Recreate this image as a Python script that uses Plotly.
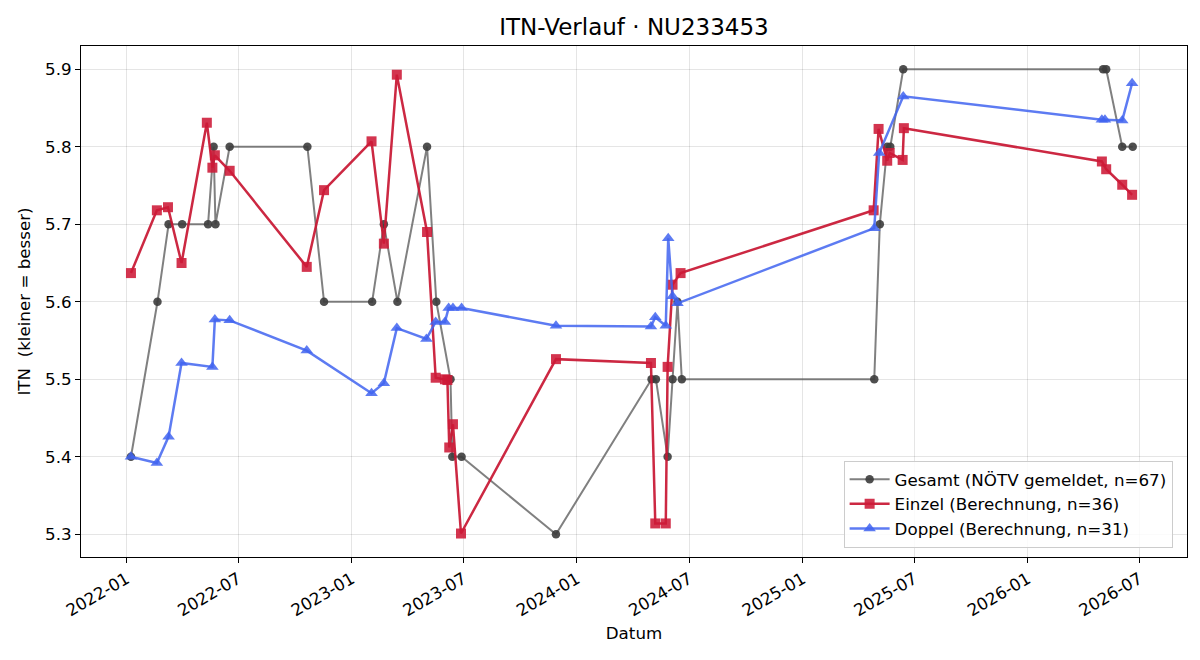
import plotly.graph_objects as go

# ---- data ----
gesamt_dates = ["2022-01-08", "2022-02-20", "2022-03-10", "2022-04-01", "2022-05-13", "2022-05-22",
                "2022-05-25", "2022-06-17", "2022-10-21", "2022-11-17", "2023-02-03", "2023-02-22",
                "2023-03-16", "2023-05-03", "2023-05-18", "2023-06-10", "2023-06-13", "2023-06-28",
                "2023-11-28", "2024-05-01", "2024-05-08", "2024-05-27", "2024-06-04", "2024-06-12",
                "2024-06-19", "2025-04-27", "2025-05-06", "2025-05-18", "2025-05-23", "2025-06-13",
                "2026-05-03", "2026-05-08", "2026-06-03", "2026-06-20"]
gesamt_vals = [5.4, 5.6, 5.7, 5.7, 5.7, 5.8,
               5.7, 5.8, 5.8, 5.6, 5.6, 5.7,
               5.6, 5.8, 5.6, 5.5, 5.4, 5.4,
               5.3, 5.5, 5.5, 5.4, 5.5, 5.6,
               5.5, 5.5, 5.7, 5.8, 5.8, 5.9,
               5.9, 5.9, 5.8, 5.8]

einzel_dates = ["2022-01-08", "2022-02-19", "2022-03-09", "2022-03-31", "2022-05-11", "2022-05-20",
                "2022-05-24", "2022-06-17", "2022-10-20", "2022-11-17", "2023-02-02", "2023-02-22",
                "2023-03-15", "2023-05-03", "2023-05-17", "2023-06-01", "2023-06-05", "2023-06-08",
                "2023-06-14", "2023-06-27", "2023-11-28", "2024-04-30", "2024-05-07", "2024-05-24",
                "2024-05-27", "2024-06-04", "2024-06-17", "2025-04-26", "2025-05-04", "2025-05-18",
                "2025-05-22", "2025-06-12", "2025-06-14", "2026-05-01", "2026-05-08", "2026-06-03",
                "2026-06-19"]
einzel_vals = [5.637, 5.718, 5.722, 5.650, 5.831, 5.773,
               5.789, 5.769, 5.645, 5.744, 5.807, 5.675,
               5.893, 5.690, 5.502, 5.500, 5.499, 5.412,
               5.442, 5.301, 5.526, 5.521, 5.314, 5.314,
               5.516, 5.622, 5.637, 5.718, 5.823, 5.782,
               5.792, 5.783, 5.824, 5.781, 5.771, 5.751,
               5.738]

doppel_dates = ["2022-01-08", "2022-02-19", "2022-03-10", "2022-03-31", "2022-05-20", "2022-05-24",
                "2022-06-17", "2022-10-20", "2023-02-02", "2023-02-22", "2023-03-15", "2023-05-02",
                "2023-05-17", "2023-06-01", "2023-06-07", "2023-06-14", "2023-06-28", "2023-11-28",
                "2024-04-30", "2024-05-07", "2024-05-24", "2024-05-28", "2024-06-04", "2024-06-12",
                "2025-04-27", "2025-05-05", "2025-06-13", "2026-05-01", "2026-05-06", "2026-06-03",
                "2026-06-19"]
doppel_vals = [5.400, 5.392, 5.426, 5.521, 5.516, 5.577,
               5.576, 5.537, 5.482, 5.495, 5.566, 5.552,
               5.574, 5.574, 5.592, 5.592, 5.592, 5.569,
               5.568, 5.580, 5.569, 5.682, 5.607, 5.598,
               5.695, 5.792, 5.865, 5.835, 5.835, 5.834,
               5.882]

names = ["Gesamt (NÖTV gemeldet, n=67)", "Einzel (Berechnung, n=36)", "Doppel (Berechnung, n=31)"]
title = "ITN-Verlauf · NU233453"

FONT = "DejaVu Sans"

fig = go.Figure()
fig.add_trace(go.Scatter(
    x=gesamt_dates, y=gesamt_vals, name=names[0], mode="lines+markers",
    line=dict(color="rgba(85,85,85,0.75)", width=2),
    marker=dict(symbol="circle", size=8.5, color="rgba(60,60,60,0.9)", line=dict(width=0)),
))
fig.add_trace(go.Scatter(
    x=einzel_dates, y=einzel_vals, name=names[1], mode="lines+markers",
    line=dict(color="rgba(200,22,50,0.92)", width=2.5),
    marker=dict(symbol="square", size=10, color="rgba(205,25,55,0.88)", line=dict(width=0)),
))
fig.add_trace(go.Scatter(
    x=doppel_dates, y=doppel_vals, name=names[2], mode="lines+markers",
    line=dict(color="rgba(65,100,240,0.85)", width=2.5),
    marker=dict(symbol="triangle-up", size=11, color="rgba(65,100,240,0.85)", line=dict(width=0)),
))

fig.update_layout(
    width=1200, height=660,
    margin=dict(l=81, r=13, t=46, b=103),
    paper_bgcolor="white", plot_bgcolor="white",
    font=dict(family=FONT, size=16.7, color="black"),
    title=dict(text=title, x=0.5, xref="paper", xanchor="center", y=0.959, yanchor="middle",
               font=dict(family=FONT, size=23, color="black")),
    showlegend=True,
    legend=dict(x=0.987, y=0.018, xanchor="right", yanchor="bottom",
                bgcolor="rgba(255,255,255,0.85)", bordercolor="#cccccc", borderwidth=1,
                font=dict(family=FONT, size=16.7), tracegroupgap=0, itemwidth=40),
)
fig.update_xaxes(
    type="date", range=["2021-10-19", "2026-09-16"],
    tick0="2022-01-01", dtick="M6", tickformat="%Y-%m", tickangle=-30,
    ticks="outside", ticklen=5, tickcolor="black", tickfont=dict(size=16.7),
    showline=True, linecolor="black", linewidth=1, mirror=True,
    showgrid=True, gridcolor="rgba(0,0,0,0.1)", gridwidth=1, zeroline=False,
    title=dict(text="Datum", font=dict(size=16.7), standoff=8),
)
fig.update_yaxes(
    range=[5.2707, 5.930], tick0=5.3, dtick=0.1, tickformat=".1f",
    ticks="outside", ticklen=5, tickcolor="black", tickfont=dict(size=16.7),
    showline=True, linecolor="black", linewidth=1, mirror=True,
    showgrid=True, gridcolor="rgba(0,0,0,0.1)", gridwidth=1, zeroline=False,
    title=dict(text="ITN  (kleiner = besser)", font=dict(size=16.7), standoff=10),
)

fig.write_html("out.html")
